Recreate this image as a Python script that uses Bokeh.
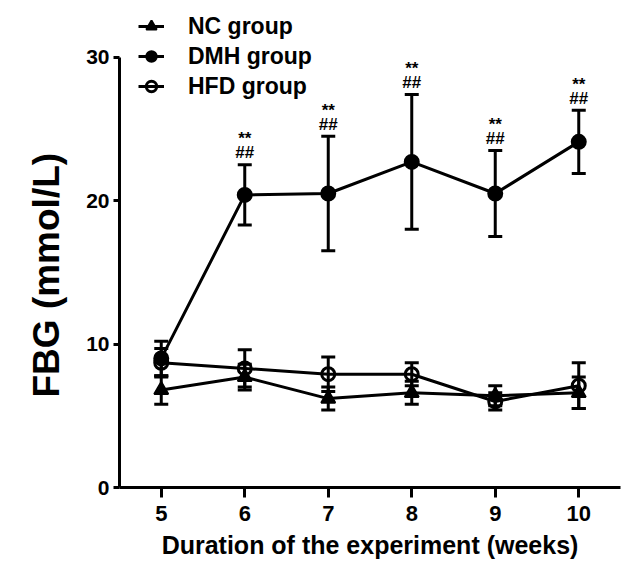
from bokeh.plotting import figure
from bokeh.models import (Range1d, FixedTicker, Whisker, TeeHead, ColumnDataSource,
                          Legend, LegendItem, Title)
from bokeh.core.properties import value
from bokeh.embed import file_html
from bokeh.resources import INLINE

# ---- data ----
weeks = [5, 6, 7, 8, 9, 10]
nc_mean = [6.8, 7.7, 6.2, 6.6, 6.4, 6.6]
nc_sd = [1.0, 0.9, 0.8, 0.8, 0.7, 1.1]
dmh_mean = [9.0, 20.4, 20.5, 22.7, 20.5, 24.1]
dmh_sd = [1.2, 2.1, 4.0, 4.7, 3.0, 2.2]
hfd_mean = [8.7, 8.3, 7.9, 7.9, 6.0, 7.1]
hfd_sd = [1.0, 1.3, 1.2, 0.8, 0.6, 1.6]
sig_weeks = [6, 7, 8, 9, 10]
x_ticks = [5, 6, 7, 8, 9, 10]
y_ticks = [0, 10, 20, 30]
series_names = ["NC group", "DMH group", "HFD group"]

FONT = "Liberation Sans"

p = figure(width=632, height=561, output_backend="svg", toolbar_location=None,
           x_range=Range1d(4.5, 10.5), y_range=Range1d(0, 33.4),
           min_border_left=119, min_border_right=12, min_border_top=8,
           min_border_bottom=72)
p.outline_line_color = None
p.xgrid.visible = False
p.ygrid.visible = False
p.background_fill_color = "white"

for ax in (p.xaxis[0], p.yaxis[0]):
    ax.axis_line_width = 3
    ax.axis_line_color = "black"
    ax.major_tick_line_width = 3
    ax.major_tick_line_color = "black"
    ax.major_tick_in = 0
    ax.minor_tick_line_color = None
    ax.major_label_text_font = FONT
    ax.major_label_text_font_style = "bold"
    ax.major_label_text_font_size = "21px"
    ax.major_label_text_color = "black"

p.xaxis.ticker = FixedTicker(ticks=x_ticks)
p.xaxis.major_tick_out = 10
p.xaxis.major_label_standoff = 8
p.xaxis.major_label_text_font_size = "22px"
p.xaxis.axis_label = "Duration of the experiment (weeks)"
p.xaxis.axis_label_text_font = FONT
p.xaxis.axis_label_text_font_style = "bold"
p.xaxis.axis_label_text_font_size = "25px"
p.xaxis.axis_label_text_color = "black"
p.xaxis.axis_label_standoff = 7

p.yaxis.ticker = FixedTicker(ticks=y_ticks)
p.yaxis.bounds = (0, 30)
p.yaxis.major_tick_out = 6
p.yaxis.major_label_standoff = 4

def add_series(mean, sd, marker, fill):
    src = ColumnDataSource(dict(x=weeks, y=mean,
                                up=[m + s for m, s in zip(mean, sd)],
                                lo=[m - s for m, s in zip(mean, sd)]))
    w = Whisker(base="x", upper="up", lower="lo", source=src,
                line_width=3, line_color="black",
                upper_head=TeeHead(size=14, line_width=3, line_color="black"),
                lower_head=TeeHead(size=14, line_width=3, line_color="black"))
    p.add_layout(w)
    ln = p.line("x", "y", source=src, line_width=3, line_color="black")
    if fill:
        sc = p.scatter("x", "y", source=src, marker=marker, size=14,
                       fill_color="black", line_color="black", line_width=2)
    else:
        sc = p.scatter("x", "y", source=src, marker=marker, size=13,
                       fill_alpha=0, line_color="black", line_width=3)
    return [ln, sc]

r_nc = add_series(nc_mean, nc_sd, "triangle", True)
r_dmh = add_series(dmh_mean, dmh_sd, "circle", True)
r_hfd = add_series(hfd_mean, hfd_sd, "circle", False)

# significance marks
tops = [dmh_mean[weeks.index(w)] + dmh_sd[weeks.index(w)] for w in sig_weeks]
sig_src = ColumnDataSource(dict(x=sig_weeks, y=tops,
                                a=["##"] * len(sig_weeks), b=["**"] * len(sig_weeks)))
p.text("x", "y", text="a", source=sig_src, y_offset=-12,
       text_align="center", text_baseline="middle",
       text_font=value(FONT), text_font_style="bold", text_font_size="17px",
       text_color="black")
p.text("x", "y", text="b", source=sig_src, y_offset=-26,
       text_align="center", text_baseline="middle",
       text_font=value(FONT), text_font_style="bold", text_font_size="17px",
       text_color="black")

legend = Legend(items=[LegendItem(label=series_names[0], renderers=r_nc),
                       LegendItem(label=series_names[1], renderers=r_dmh),
                       LegendItem(label=series_names[2], renderers=r_hfd)],
                location=(19, 386), padding=0, margin=0, spacing=0,
                glyph_width=26, glyph_height=30, label_height=30,
                label_standoff=24, border_line_color=None,
                background_fill_alpha=0,
                label_text_font=FONT, label_text_font_style="bold",
                label_text_font_size="23px", label_text_color="black")
p.add_layout(legend)

ytitle = Title(text="FBG (mmol/L)", align="left", offset=90, standoff=33,
               text_font=FONT, text_font_style="bold", text_font_size="37px",
               text_color="black")
p.add_layout(ytitle, "left")

open("out.html", "w").write(file_html(p, INLINE))
